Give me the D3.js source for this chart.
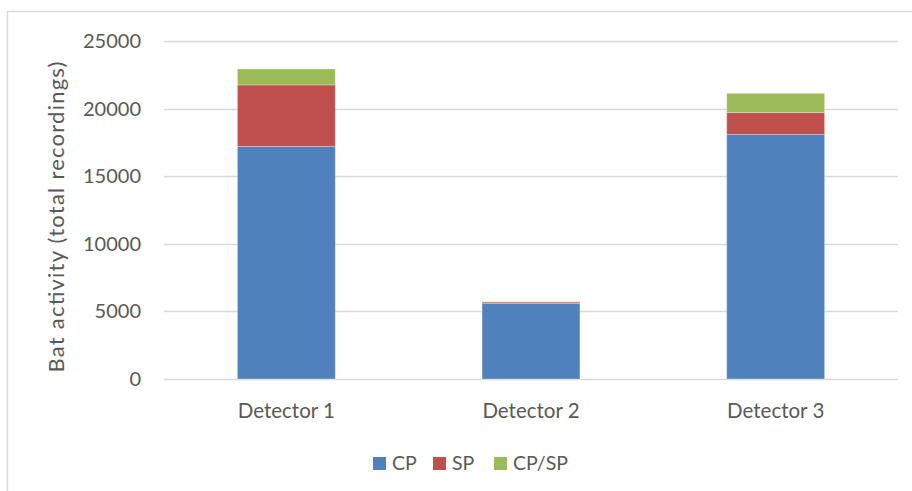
<!DOCTYPE html>
<html>
<head>
<meta charset="utf-8">
<script src="https://cdn.jsdelivr.net/npm/d3@7"></script>
<style>
  html, body { margin: 0; padding: 0; background: #fff; }
  svg { display: block; font-family: Lato, "Open Sans", sans-serif; }
</style>
</head>
<body>
<svg id="chart" width="912" height="491"></svg>
<script>
// Bat activity per detector, split by call type
const detectors = ["Detector 1", "Detector 2", "Detector 3"];
const seriesNames = ["CP", "SP", "CP/SP"];
const cpValues = [17200, 5580, 18100];
const spValues = [4550, 110, 1600];
const cpSpValues = [1180, 30, 1430];
const yTicks = [0, 5000, 10000, 15000, 20000, 25000];
const colors = ["#4f81bd", "#c0504d", "#9bbb59"];

const rows = detectors.map((d, i) => ({
  detector: d,
  "CP": cpValues[i],
  "SP": spValues[i],
  "CP/SP": cpSpValues[i]
}));

const svg = d3.select("#chart");
const margin = { left: 164, right: 14, top: 41, bottom: 112 };
const W = 912, H = 491;
const textColor = "#595959";

// chart frame
svg.append("rect")
  .attr("x", 7.5).attr("y", 11.5)
  .attr("width", 920).attr("height", 500)
  .attr("fill", "none").attr("stroke", "#d9d9d9").attr("stroke-width", 1.5);

const x = d3.scaleBand()
  .domain(detectors)
  .range([margin.left, W - margin.right])
  .paddingInner(0.6).paddingOuter(0.3);

const y = d3.scaleLinear()
  .domain([0, 25000])
  .range([H - margin.bottom, margin.top]);

// gridlines
svg.append("g")
  .selectAll("line")
  .data(yTicks)
  .join("line")
  .attr("x1", margin.left).attr("x2", W - margin.right)
  .attr("y1", d => Math.round(y(d)) + 0.5).attr("y2", d => Math.round(y(d)) + 0.5)
  .attr("stroke", "#d9d9d9").attr("stroke-width", 1.5);

// y axis labels
const yAxis = d3.axisLeft(y).tickValues(yTicks).tickSize(0).tickPadding(23).tickFormat(d3.format("d"));
const gy = svg.append("g").attr("transform", `translate(${margin.left},0)`).call(yAxis);
gy.select(".domain").remove();
gy.selectAll("text").attr("fill", textColor).style("font-size", "20px").style("font-family", "Lato, sans-serif");

// x axis labels
const xAxis = d3.axisBottom(x).tickSize(0).tickPadding(24);
const gx = svg.append("g").attr("transform", `translate(0,${y(0)})`).call(xAxis);
gx.select(".domain").remove();
gx.selectAll("text").attr("fill", textColor).style("font-size", "20.5px").style("font-family", "Lato, sans-serif");

// stacked bars
const stack = d3.stack().keys(seriesNames);
const layers = stack(rows);
svg.append("g")
  .selectAll("g")
  .data(layers)
  .join("g")
  .attr("fill", (d, i) => colors[i])
  .selectAll("rect")
  .data(d => d)
  .join("rect")
  .attr("x", d => x(d.data.detector))
  .attr("width", x.bandwidth())
  .attr("y", d => y(d[1]))
  .attr("height", d => y(d[0]) - y(d[1]))
  .attr("stroke", "rgba(255,255,255,0.35)")
  .attr("stroke-width", 0.8);

// y axis title
svg.append("text")
  .attr("transform", `translate(64,217) rotate(-90)`)
  .attr("text-anchor", "middle")
  .attr("fill", textColor)
  .attr("textLength", 311)
  .attr("lengthAdjust", "spacing")
  .style("font-size", "22px")
  .text("Bat activity (total recordings)");

// legend
const legendX = [373, 433, 494];
const legend = svg.append("g");
seriesNames.forEach((name, i) => {
  legend.append("rect")
    .attr("x", legendX[i]).attr("y", 457)
    .attr("width", 13).attr("height", 13)
    .attr("fill", colors[i]);
  legend.append("text")
    .attr("x", legendX[i] + 19).attr("y", 470)
    .attr("fill", textColor)
    .style("font-size", "19.5px")
    .text(name);
});
</script>
</body>
</html>
